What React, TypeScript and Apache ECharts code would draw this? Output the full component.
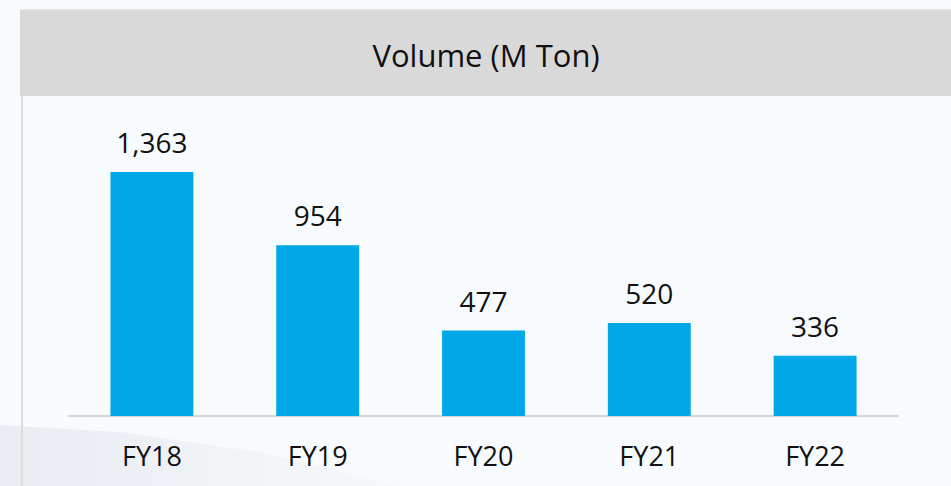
import React, { useEffect, useRef } from "react";
import * as echarts from "echarts";

const categories = ["FY18", "FY19", "FY20", "FY21", "FY22"];
const volumes = [1363, 954, 477, 520, 336];
const title = "Volume (M Ton)";

export default function App() {
  const ref = useRef<HTMLDivElement>(null);
  useEffect(() => {
    document.body.style.margin = "0";
    const chart = echarts.init(ref.current!, null, { renderer: "svg" });
    chart.setOption({
      animation: false,
      backgroundColor: "#f7fbfe",
      graphic: [
        {
          type: "polygon",
          silent: true,
          z: -10,
          shape: { points: [[0, 425], [120, 432], [260, 452], [400, 486], [0, 486]] },
          style: {
            fill: new echarts.graphic.LinearGradient(0, 0, 1, 0, [
              { offset: 0, color: "rgba(215,220,226,0.45)" },
              { offset: 1, color: "rgba(215,220,226,0.05)" },
            ]),
          },
        },
        {
          type: "rect",
          silent: true,
          shape: { x: 20, y: 9, width: 931, height: 87 },
          style: { fill: "#d9d9d9" },
        },
        {
          type: "rect",
          silent: true,
          shape: { x: 20, y: 9, width: 931, height: 2 },
          style: { fill: "#e1e1e1" },
        },
        {
          type: "rect",
          silent: true,
          shape: { x: 21, y: 96, width: 2, height: 390 },
          style: { fill: "#dddddd" },
        },
        {
          type: "text",
          silent: true,
          x: 486,
          y: 55,
          style: {
            text: title,
            fontFamily: "Open Sans",
            fontSize: 31,
            fill: "#111111",
            align: "center",
            verticalAlign: "middle",
          },
        },
      ],
      grid: { left: 69, right: 53, top: 129.6, bottom: 70, containLabel: false },
      xAxis: {
        type: "category",
        data: categories,
        axisLine: { lineStyle: { color: "#d6d6d6", width: 2 } },
        axisTick: { show: false },
        axisLabel: {
          margin: 26,
          fontFamily: "Open Sans",
          fontSize: 27,
          color: "#111111",
        },
      },
      yAxis: {
        type: "value",
        min: 0,
        max: 1600,
        show: false,
        splitLine: { show: false },
      },
      series: [
        {
          type: "bar",
          data: volumes,
          barWidth: "50%",
          itemStyle: { color: "#00a8e8" },
          label: {
            show: true,
            position: "top",
            distance: 16,
            fontFamily: "Open Sans",
            fontSize: 28,
            color: "#111111",
            formatter: (p: any) => Number(p.value).toLocaleString("en-US"),
          },
        },
      ],
    });
    return () => chart.dispose();
  }, []);
  return <div ref={ref} style={{ width: 951, height: 486 }} />;
}
